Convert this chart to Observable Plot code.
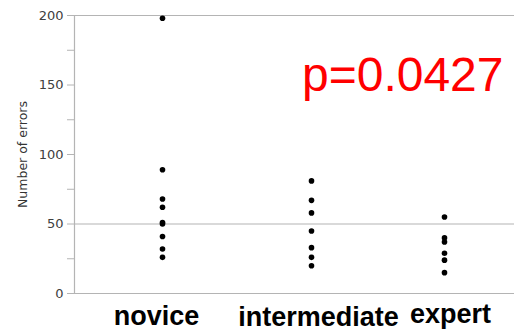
<!DOCTYPE html>
<html>
<head>
<meta charset="utf-8">
<script src="https://cdn.jsdelivr.net/npm/d3@7"></script>
<script src="https://cdn.jsdelivr.net/npm/@observablehq/plot@0.6"></script>
<style>
  html, body { margin: 0; padding: 0; background: #fff; }
  #chart svg { display: block; }
</style>
</head>
<body>
<div id="chart"></div>
<script>
const categories = ["novice", "intermediate", "expert"];
const noviceErrors = [198, 89, 68, 62, 51, 50, 41, 32, 26];
const intermediateErrors = [81, 67, 58, 45, 33, 26, 20];
const expertErrors = [55, 40, 37, 29, 24, 15];
const yTicks = [0, 25, 50, 75, 100, 125, 150, 175, 200];
const yLabelTicks = [0, 50, 100, 150, 200];
const pValueText = "p=0.0427";
const yTitle = "Number of errors";

const series = [noviceErrors, intermediateErrors, expertErrors];
const data = categories.flatMap((c, i) => series[i].map(v => ({group: c, errors: v})));

const grey = "#b4b4b4";
const labelFont = "Liberation Sans, Arial, sans-serif";
// per-label nudges of the category labels (style only)
const labelNudge = {novice: [-6, -4], intermediate: [7, -3], expert: [6, -6]};

const xAxisFor = c => Plot.axisX({
  ticks: [c],
  tickSize: 0,
  tickPadding: 16,
  dx: labelNudge[c][0],
  dy: labelNudge[c][1],
  fontSize: 27,
  fontWeight: "bold",
  fontFamily: labelFont,
  fill: "#000",
  label: null
});

const chart = Plot.plot({
  width: 514,
  height: 332,
  marginLeft: 74,
  marginRight: 0,
  marginTop: 15,
  marginBottom: 39,
  style: {background: "#fff"},
  x: {type: "ordinal", domain: categories, range: [162, 311, 444]},
  y: {domain: [0, 200]},
  marks: [
    Plot.ruleY([0, 50, 200], {stroke: grey, strokeWidth: 1.2}),
    Plot.frame({anchor: "left", stroke: grey, strokeWidth: 1.2}),
    Plot.axisY({
      ticks: yTicks,
      tickFormat: d => yLabelTicks.includes(d) ? String(d) : "",
      tickSize: 7,
      tickPadding: 4,
      stroke: grey,
      fontSize: 13,
      fill: "#404040",
      fontFamily: "DejaVu Sans",
      label: null
    }),
    Plot.axisY({
      ticks: [],
      label: yTitle,
      labelAnchor: "center",
      labelArrow: "none",
      labelOffset: 56,
      fontSize: 12.5,
      fill: "#333",
      fontFamily: "DejaVu Sans"
    }),
    ...categories.map(xAxisFor),
    Plot.dot(data, {x: "group", y: "errors", r: 2.8, fill: "#000", stroke: null}),
    Plot.text([pValueText], {
      text: d => d,
      frameAnchor: "top-right",
      textAnchor: "end",
      lineAnchor: "bottom",
      dx: -11,
      dy: 75,
      fontSize: 48,
      fill: "#ff0000",
      fontFamily: labelFont
    })
  ]
});
document.getElementById("chart").appendChild(chart);
</script>
</body>
</html>
